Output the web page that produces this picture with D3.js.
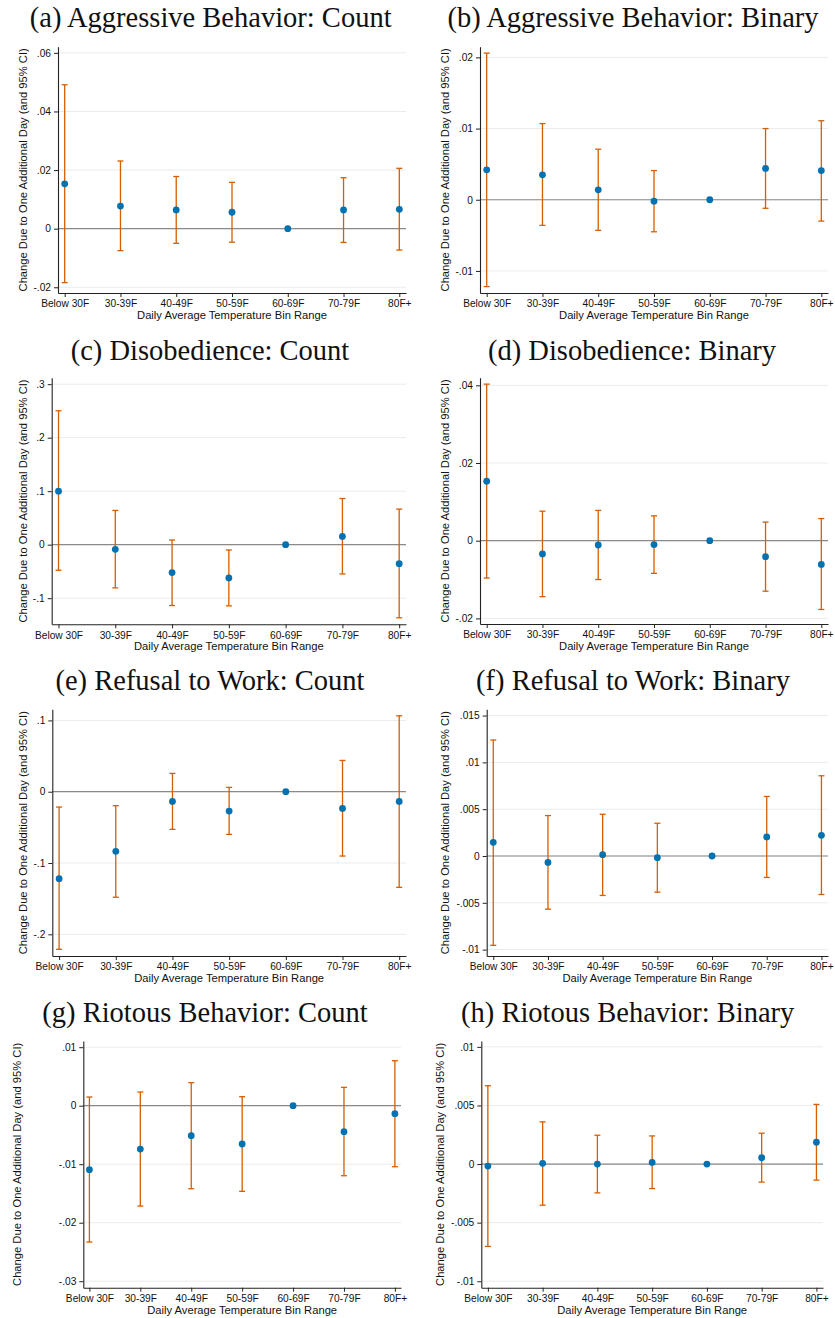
<!DOCTYPE html>
<html>
<head>
<meta charset="utf-8">
<script src="https://cdn.jsdelivr.net/npm/d3@7"></script>
<style>
  body { margin: 0; background: #fff; }
  svg { display: block; }
</style>
</head>
<body>
<script>
'use strict';

// temperature bins (x categories)
var categories = ['Below 30F', '30-39F', '40-49F', '50-59F', '60-69F', '70-79F', '80F+'];

var titles = [
  '(a) Aggressive Behavior: Count', '(b) Aggressive Behavior: Binary',
  '(c) Disobedience: Count', '(d) Disobedience: Binary',
  '(e) Refusal to Work: Count', '(f) Refusal to Work: Binary',
  '(g) Riotous Behavior: Count', '(h) Riotous Behavior: Binary'
];

var yTitle = 'Change Due to One Additional Day (and 95% CI)';
var xTitle = 'Daily Average Temperature Bin Range';

// point estimates and 95% CI, 60-69F is the omitted bin
var aggCountEst = [0.0153, 0.0077, 0.0064, 0.0056, 0, 0.0064, 0.0066];
var aggCountLo = [-0.0184, -0.0075, -0.0050, -0.0046, null, -0.0047, -0.0073];
var aggCountHi = [0.0491, 0.0231, 0.0178, 0.0158, null, 0.0174, 0.0206];

var aggBinEst = [0.0042, 0.0035, 0.0014, -0.0002, 0, 0.0044, 0.0041];
var aggBinLo = [-0.0122, -0.0036, -0.0043, -0.0045, null, -0.0012, -0.0030];
var aggBinHi = [0.0206, 0.0107, 0.0071, 0.0041, null, 0.0100, 0.0111];

var disCountEst = [0.100, -0.0087, -0.0522, -0.0621, 0, 0.0155, -0.0354];
var disCountLo = [-0.0478, -0.0807, -0.1137, -0.1143, null, -0.0547, -0.1366];
var disCountHi = [0.2503, 0.0640, 0.0087, -0.0099, null, 0.0863, 0.0665];

var disBinEst = [0.0153, -0.0034, -0.0011, -0.0010, 0, -0.0041, -0.0061];
var disBinLo = [-0.0096, -0.0144, -0.0100, -0.0084, null, -0.0130, -0.0177];
var disBinHi = [0.0403, 0.0076, 0.0078, 0.0064, null, 0.0048, 0.0057];

var refCountEst = [-0.1220, -0.0836, -0.0136, -0.0271, 0, -0.0234, -0.0136];
var refCountLo = [-0.2210, -0.1480, -0.0528, -0.0598, null, -0.0902, -0.1341];
var refCountHi = [-0.0215, -0.0196, 0.0257, 0.0061, null, 0.0439, 0.1065];

var refBinEst = [0.00146, -0.00068, 0.00014, -0.00018, 0, 0.00204, 0.00221];
var refBinLo = [-0.00954, -0.00568, -0.00421, -0.00386, null, -0.00229, -0.00411];
var refBinHi = [0.01239, 0.00432, 0.00446, 0.00350, null, 0.00636, 0.00857];

var riotCountEst = [-0.01094, -0.00741, -0.00513, -0.00655, 0, -0.00444, -0.00137];
var riotCountLo = [-0.0233, -0.01715, -0.01419, -0.01464, null, -0.01197, -0.01043];
var riotCountHi = [0.00148, 0.00234, 0.00393, 0.00154, null, 0.00313, 0.00769];

var riotBinEst = [-0.00017, 0.00006, 0.00000, 0.00014, 0, 0.00054, 0.00186];
var riotBinLo = [-0.00703, -0.00351, -0.00246, -0.00209, null, -0.00154, -0.00137];
var riotBinHi = [0.00669, 0.00360, 0.00246, 0.00240, null, 0.00263, 0.00509];

// y tick values for each panel
var aggCountTicks = [-0.02, 0, 0.02, 0.04, 0.06];
var aggBinTicks = [-0.01, 0, 0.01, 0.02];
var disCountTicks = [-0.1, 0, 0.1, 0.2, 0.3];
var disBinTicks = [-0.02, 0, 0.02, 0.04];
var refCountTicks = [-0.2, -0.1, 0, 0.1];
var refBinTicks = [-0.01, -0.005, 0, 0.005, 0.01, 0.015];
var riotCountTicks = [-0.03, -0.02, -0.01, 0, 0.01];
var riotBinTicks = [-0.01, -0.005, 0, 0.005, 0.01];

// y axis extents
var aggCountRange = [-0.02195, 0.0621];
var aggBinRange = [-0.0131, 0.0215];
var disCountRange = [-0.1488, 0.3121];
var disBinRange = [-0.02144, 0.04196];
var refCountRange = [-0.2304, 0.1156];
var refBinRange = [-0.01068, 0.01567];
var riotCountRange = [-0.03111, 0.01106];
var riotBinRange = [-0.01055, 0.0105];

var series = [
  { est: aggCountEst, lo: aggCountLo, hi: aggCountHi, ticks: aggCountTicks, dom: aggCountRange },
  { est: aggBinEst, lo: aggBinLo, hi: aggBinHi, ticks: aggBinTicks, dom: aggBinRange },
  { est: disCountEst, lo: disCountLo, hi: disCountHi, ticks: disCountTicks, dom: disCountRange },
  { est: disBinEst, lo: disBinLo, hi: disBinHi, ticks: disBinTicks, dom: disBinRange },
  { est: refCountEst, lo: refCountLo, hi: refCountHi, ticks: refCountTicks, dom: refCountRange },
  { est: refBinEst, lo: refBinLo, hi: refBinHi, ticks: refBinTicks, dom: refBinRange },
  { est: riotCountEst, lo: riotCountLo, hi: riotCountHi, ticks: riotCountTicks, dom: riotCountRange },
  { est: riotBinEst, lo: riotBinLo, hi: riotBinHi, ticks: riotBinTicks, dom: riotBinRange }
];

// panel geometry (pixels)
var layout = [
  { left: 58, right: 406, top: 46.7, bottom: 293, tx: 210.7, ty: 27, lx: 22.7 },
  { left: 480, right: 828, top: 46.7, bottom: 293, tx: 633, ty: 27, lx: 444.7 },
  { left: 51.7, right: 406, top: 377.7, bottom: 624.3, tx: 210, ty: 359.5, lx: 22.7 },
  { left: 480, right: 828, top: 377.7, bottom: 624, tx: 632, ty: 359.5, lx: 444.7 },
  { left: 52.3, right: 406, top: 709.3, bottom: 956, tx: 210, ty: 689.5, lx: 22.7 },
  { left: 486.7, right: 828, top: 709.3, bottom: 956, tx: 633, ty: 689.5, lx: 444.7 },
  { left: 83.3, right: 401, top: 1041, bottom: 1287.7, tx: 205, ty: 1021.7, lx: 16.7 },
  { left: 481.3, right: 823, top: 1041, bottom: 1287.7, tx: 627.7, ty: 1021.7, lx: 440 }
];

var sans = '"Liberation Sans", Arial, sans-serif';
var serif = '"Liberation Serif", "Times New Roman", serif';
var ciColor = '#d55e00';
var dotColor = '#0072b2';

var fmt = function fmt(v) {
  return String(v).replace(/^(-?)0\./, '$1.');
};

var svg = d3.select('body').append('svg').attr('width', 835).attr('height', 1318);
svg.append('rect').attr('width', 835).attr('height', 1318).attr('fill', '#fff');

var drawPanel = function drawPanel(s, p, title) {
  var g = svg.append('g');
  var x = d3.scalePoint().domain(categories).range([p.left, p.right]).padding(0.12);
  var y = d3.scaleLinear().domain(s.dom).range([p.bottom, p.top]);

  // gridlines
  g.selectAll('.grid').data(s.ticks).enter().append('line')
    .attr('class', 'grid')
    .attr('x1', p.left).attr('x2', p.right)
    .attr('y1', function (d) { return y(d); })
    .attr('y2', function (d) { return y(d); })
    .attr('stroke', '#ebebeb').attr('stroke-width', 1);

  // zero reference line
  g.append('line')
    .attr('x1', p.left).attr('x2', p.right)
    .attr('y1', y(0)).attr('y2', y(0))
    .attr('stroke', '#8a8a8a').attr('stroke-width', 1.2);

  // axes
  var yAxis = g.append('g').attr('transform', 'translate(' + p.left + ',0)')
    .call(d3.axisLeft(y).tickValues(s.ticks).tickFormat(fmt).tickSize(4).tickSizeOuter(0).tickPadding(3));
  var xAxis = g.append('g').attr('transform', 'translate(0,' + p.bottom + ')')
    .call(d3.axisBottom(x).tickSize(4).tickSizeOuter(0).tickPadding(3));
  [yAxis, xAxis].forEach(function (a) {
    a.select('.domain').attr('stroke', '#222').attr('stroke-width', 1.1);
    a.selectAll('.tick line').attr('stroke', '#222');
    a.selectAll('text').attr('fill', '#111').style('font-family', sans).style('font-size', '10.2px');
  });

  var rows = categories.map(function (c, i) {
    return { cat: c, est: s.est[i], lo: s.lo[i], hi: s.hi[i] };
  });
  var ci = rows.filter(function (d) { return d.lo !== null; });

  // confidence intervals with caps
  g.selectAll('.ci').data(ci).enter().append('line')
    .attr('x1', function (d) { return x(d.cat); })
    .attr('x2', function (d) { return x(d.cat); })
    .attr('y1', function (d) { return y(d.lo); })
    .attr('y2', function (d) { return y(d.hi); })
    .attr('stroke', ciColor).attr('stroke-width', 1.3);
  ['lo', 'hi'].forEach(function (k) {
    g.selectAll('.cap-' + k).data(ci).enter().append('line')
      .attr('x1', function (d) { return x(d.cat) - 3; })
      .attr('x2', function (d) { return x(d.cat) + 3; })
      .attr('y1', function (d) { return y(d[k]); })
      .attr('y2', function (d) { return y(d[k]); })
      .attr('stroke', ciColor).attr('stroke-width', 1.3);
  });

  // point estimates
  g.selectAll('.dot').data(rows).enter().append('circle')
    .attr('cx', function (d) { return x(d.cat); })
    .attr('cy', function (d) { return y(d.est); })
    .attr('r', 3.4)
    .attr('fill', dotColor);

  // titles
  g.append('text')
    .attr('x', p.tx).attr('y', p.ty)
    .attr('text-anchor', 'middle')
    .style('font-family', serif).style('font-size', '28.5px').attr('fill', '#111')
    .text(title);

  g.append('text')
    .attr('x', (p.left + p.right) / 2).attr('y', p.bottom + 26)
    .attr('text-anchor', 'middle')
    .style('font-family', sans).style('font-size', '11.2px').attr('fill', '#111')
    .text(xTitle);

  var cy = (p.top + p.bottom) / 2;
  g.append('text')
    .attr('transform', 'translate(' + p.lx + ',' + cy + ') rotate(-90)')
    .attr('text-anchor', 'middle').attr('dy', '0.35em')
    .style('font-family', sans).style('font-size', '11.2px').attr('fill', '#111')
    .text(yTitle);
};

series.forEach(function (s, i) {
  drawPanel(s, layout[i], titles[i]);
});
</script>
</body>
</html>
